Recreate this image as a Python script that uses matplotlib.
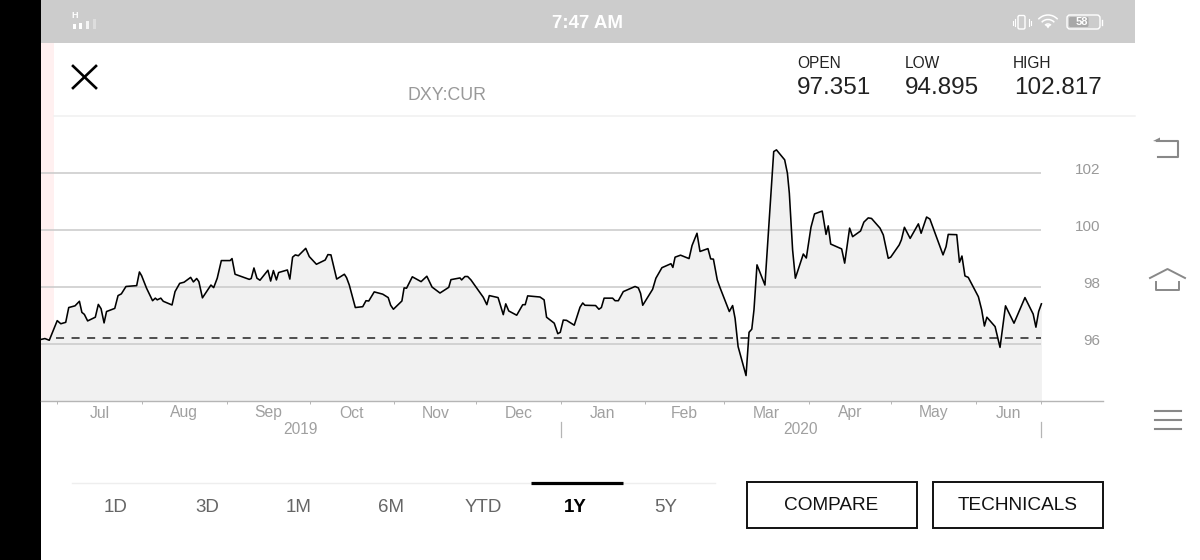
import matplotlib
matplotlib.use("Agg")
import matplotlib.pyplot as plt
from matplotlib.patches import Rectangle, FancyBboxPatch, Polygon, Arc

plt.rcParams['font.family'] = ['Liberation Sans', 'DejaVu Sans']
plt.rcParams['lines.scale_dashes'] = False

# days counted from 1 Jul 2019
days = [-6.0, -4.6, -3.0, -0.1, 1.2, 3.0, 4.1, 6.4, 8.0, 8.9, 9.8, 11.0, 13.8, 14.9, 15.9, 17.0, 17.9, 20.9,
        22.1, 23.3, 25.0, 28.9, 29.9, 30.7, 32.5, 34.7, 35.7, 36.4, 37.7, 38.6, 41.8, 42.9, 44.6, 46.2, 48.6,
        49.6, 50.8, 51.6, 52.9, 56.0, 57.0, 58.3, 59.8, 63.0, 63.7, 64.8, 70.0, 70.7, 71.7, 72.8, 73.9, 76.8,
        77.8, 78.8, 79.9, 80.7, 83.9, 84.8, 85.8, 86.8, 87.9, 90.6, 91.9, 94.5, 97.7, 98.7, 99.8, 101.9, 104.7,
        105.5, 106.5, 108.7, 111.4, 112.6, 113.6, 115.6, 118.7, 120.7, 121.6, 122.6, 125.7, 126.5, 127.4, 129.5,
        132.7, 134.8, 136.7, 139.6, 142.8, 143.6, 146.9, 147.5, 148.7, 149.7, 150.9, 155.4, 156.7, 157.6, 160.8,
        162.7, 163.6, 164.7, 167.6, 169.8, 170.7, 171.6, 176.1, 177.6, 178.5, 181.3, 182.6, 183.5, 184.6, 185.8,
        188.6, 190.7, 191.7, 192.5, 196.4, 197.6, 198.5, 199.5, 202.6, 203.5, 204.7, 206.5, 210.8, 212.0, 212.8,
        213.6, 217.2, 218.4, 220.6, 223.9, 224.6, 225.4, 227.4, 230.5, 231.6, 233.4, 234.5, 237.4, 238.4, 239.4,
        240.8, 241.8, 245.2, 246.4, 247.3, 248.4, 251.3, 252.4, 253.4, 254.2, 255.3, 258.2, 261.4, 262.4, 265.4,
        266.4, 267.1, 268.3, 269.3, 272.2, 273.3, 275.0, 276.3, 279.1, 280.5, 281.3, 282.2, 286.2, 287.3, 289.1,
        290.2, 293.1, 294.3, 295.9, 297.1, 300.2, 301.4, 303.2, 304.1, 307.2, 308.0, 309.1, 311.2, 314.2, 315.2,
        317.2, 318.4, 323.2, 324.3, 325.1, 328.2, 329.2, 330.1, 331.2, 332.4, 336.1, 337.3, 338.3, 339.2, 342.2,
        344.0, 346.0, 349.1, 353.1, 356.1, 357.1, 358.1, 359.1]
prices = [96.16, 96.19, 96.13, 96.82, 96.71, 96.76, 97.28, 97.34, 97.50, 97.11, 97.04, 96.81, 96.94, 97.39, 97.24,
          96.74, 97.14, 97.25, 97.70, 97.76, 98.02, 98.05, 98.53, 98.40, 97.96, 97.52, 97.61, 97.55, 97.61, 97.50,
          97.37, 97.84, 98.13, 98.17, 98.34, 98.18, 98.30, 98.19, 97.62, 98.07, 97.98, 98.31, 98.93, 98.93, 99.00,
          98.45, 98.27, 98.30, 98.67, 98.31, 98.24, 98.59, 98.21, 98.58, 98.25, 98.51, 98.60, 98.28, 99.05, 99.13,
          99.10, 99.36, 99.07, 98.80, 98.95, 99.14, 99.13, 98.28, 98.45, 98.33, 98.07, 97.28, 97.31, 97.52, 97.51,
          97.83, 97.75, 97.63, 97.36, 97.22, 97.51, 97.97, 97.96, 98.36, 98.19, 98.38, 98.00, 97.79, 97.99, 98.26,
          98.32, 98.25, 98.37, 98.37, 98.25, 97.64, 97.38, 97.70, 97.63, 97.03, 97.41, 97.16, 97.01, 97.38, 97.38,
          97.69, 97.65, 97.55, 96.94, 96.73, 96.36, 96.41, 96.84, 96.83, 96.66, 97.29, 97.44, 97.36, 97.35, 97.22,
          97.28, 97.61, 97.61, 97.52, 97.52, 97.84, 98.02, 97.97, 97.78, 97.36, 97.92, 98.31, 98.68, 98.82, 98.69,
          99.05, 99.12, 99.00, 99.46, 99.89, 99.25, 99.35, 98.99, 98.98, 98.25, 97.98, 97.14, 97.35, 96.90, 95.91,
          94.89, 96.41, 96.52, 97.20, 98.78, 98.07, 102.76, 102.82, 102.47, 102.00, 101.30, 99.30, 98.31, 99.16,
          99.02, 100.10, 100.57, 100.67, 99.85, 100.15, 99.51, 99.34, 98.84, 100.07, 99.77, 99.97, 100.28, 100.43,
          100.41, 100.07, 99.83, 99.01, 99.05, 99.48, 99.66, 100.10, 99.71, 100.22, 99.89, 100.46, 100.39, 99.13,
          99.42, 99.85, 99.84, 98.87, 99.09, 98.39, 98.34, 97.66, 97.20, 96.63, 96.94, 96.61, 95.88, 97.34, 96.73,
          97.63, 97.05, 96.59, 97.14, 97.41]

prev_close = 96.2
y_ticks = [96, 98, 100, 102]
month_days = [0, 30.8, 61.8, 92, 122.9, 152.8, 183.7, 214.4, 243.3, 274.3, 304.2, 335.2, 359]
months = ['Jul', 'Aug', 'Sep', 'Oct', 'Nov', 'Dec', 'Jan', 'Feb', 'Mar', 'Apr', 'May', 'Jun']
years = ['2019', '2020']
year_edges = [-6.0, 183.7, 359]
stats = [('OPEN', '97.351'), ('LOW', '94.895'), ('HIGH', '102.817')]
tabs = ['1D', '3D', '1M', '6M', 'YTD', '1Y', '5Y']

W, H = 1200, 560
fig = plt.figure(figsize=(W / 100, H / 100), dpi=100, facecolor='white')

# screen furniture, in pixel coordinates
bg = fig.add_axes([0, 0, 1, 1])
bg.set_xlim(0, W)
bg.set_ylim(H, 0)
bg.axis('off')

bg.add_patch(Rectangle((0, 0), 41, H, color='black', lw=0))
bg.add_patch(Rectangle((41, 0), 1094, 43, color='#cccccc', lw=0))
bg.add_patch(Rectangle((41, 43), 13, 358, color='#fff0f0', lw=0))
bg.plot([54, 1135], [116, 116], color='#f0f0f0', lw=1.1)

# status bar
bg.text(75, 15.5, 'H', color='white', fontsize=6.5, fontweight='bold', ha='center', va='center')
for bx, by, a in [(73, 24, 1), (79, 23, 1), (86, 21, 0.8), (92.5, 19, 0.35)]:
    bg.add_patch(Rectangle((bx, by), 3.2, 29 - by, color='white', alpha=a, lw=0))
bg.text(587, 23, '7:47 AM', color='white', fontsize=13.5, fontweight='bold', ha='center', va='center')
bg.add_patch(FancyBboxPatch((1018, 15.5), 7, 13.5, boxstyle='round,pad=0,rounding_size=1.5',
                            fc='none', ec='white', lw=1))
for sx, y0, y1 in [(1014.5, 19, 26), (1012.5, 20.5, 24.5), (1029, 19, 26), (1031, 20.5, 24.5)]:
    bg.plot([sx, sx], [y0, y1], color='white', lw=0.8)
for d in [26, 17, 8]:
    bg.add_patch(Arc((1048, 28), d, d, theta1=222, theta2=318, color='white', lw=1.1))
bg.add_patch(Polygon([(1045.5, 25), (1050.5, 25), (1048, 28.5)], color='white', lw=0))
bg.add_patch(FancyBboxPatch((1067, 15), 33, 14, boxstyle='round,pad=0,rounding_size=3',
                            fc='none', ec='white', lw=1))
bg.add_patch(FancyBboxPatch((1069, 17), 19.5, 10, boxstyle='round,pad=0,rounding_size=1.5',
                            fc='#a8a8a8', ec='none'))
bg.text(1082, 22, '58', color='white', fontsize=8, fontweight='bold', ha='center', va='center')
bg.plot([1102, 1102], [19.5, 24.5], color='white', lw=1)

# header
bg.plot([73, 96], [66, 88], color='black', lw=1.9)
bg.plot([73, 96], [88, 66], color='black', lw=1.9)
bg.text(447, 95, 'DXY:CUR', color='#999999', fontsize=12.8, ha='center', va='center')
for (label, val), sx in zip(stats, [797, 905, 1013]):
    bg.text(sx, 63.5, label, color='#222222', fontsize=11.2, ha='left', va='center')
    bg.text(sx + (1.5 if label == 'HIGH' else 0), 87.5, val, color='#222222', fontsize=17.5, ha='left', va='center')

# android nav buttons
nav = '#888888'
bg.plot([1157, 1178, 1178, 1158], [141, 141, 156.5, 156.5], color=nav, lw=1.5)
bg.add_patch(Polygon([(1153, 141), (1160, 137.5), (1160, 142)], color=nav, lw=0))
bg.plot([1150, 1167.5, 1185], [278, 269, 278], color=nav, lw=1.4)
bg.plot([1156, 1156, 1179, 1179], [282, 290, 290, 282], color=nav, lw=1.4)
for my in [411, 420, 429]:
    bg.plot([1155, 1180.5], [my, my], color=nav, lw=1.5)

# range tabs
bg.plot([72, 715], [483, 483], color='#eeeeee', lw=1)
bg.plot([531, 623], [483, 483], color='black', lw=2.3, solid_capstyle='butt')
for t, tx in zip(tabs, [115.7, 207.6, 299, 391, 483.5, 575, 666]):
    if t == '1Y':
        bg.text(tx, 507.5, t, color='black', fontsize=13.5, fontweight='bold', ha='center', va='center')
    else:
        bg.text(tx, 507.5, t, color='#666666', fontsize=13.5, ha='center', va='center')

# buttons
for label, bx0, bx1 in [('COMPARE', 746.6, 916.5), ('TECHNICALS', 933, 1103)]:
    bg.add_patch(Rectangle((bx0, 482), bx1 - bx0, 46, fc='white', ec='#111111', lw=1.4))
    bg.text((bx0 + bx1) / 2, 505, label, color='#111111', fontsize=13.7, ha='center', va='center')

# chart
ax = fig.add_axes([41 / W, 1 - 401 / H, 1061.5 / W, 285 / H])
ax.patch.set_alpha(0)
ax.set_xlim(-6.02, 381.4)
ax.set_ylim(93.996, 104.01)

ax.fill_between(days, prices, 93.996, color='#f1f1f1', lw=0, zorder=1)
ax.hlines(y_ticks, -6.02, 359, color='#c9c9c9', lw=1.1, zorder=2)
ax.plot([-0.4, 359], [prev_close, prev_close], color='#222222', lw=1.1, dashes=(5.8, 5.4),
        dash_capstyle='butt', zorder=3)
ax.plot(days, prices, color='black', lw=1.15, zorder=4)

for s in ['top', 'left', 'right']:
    ax.spines[s].set_visible(False)
ax.spines['bottom'].set_color('#b5b5b5')
ax.spines['bottom'].set_linewidth(1)
ax.set_yticks([])
ax.set_xticks(month_days)
ax.set_xticklabels([])
ax.tick_params(axis='x', length=2, width=0.7, color='#b5b5b5')

for v in y_ticks:
    bg.text(1100, 344 - (v - 96) * 28.45 - 3, str(v), color='#999999', fontsize=11, ha='right', va='center')

tr = ax.get_xaxis_transform()
for i, m in enumerate(months):
    ax.text((month_days[i] + month_days[i + 1]) / 2, -12 / 285, m, transform=tr, color='#a0a0a0',
            fontsize=11.3, ha='center', va='center', clip_on=False)
for i, y in enumerate(years):
    ax.text((year_edges[i] + year_edges[i + 1]) / 2, -29 / 285, y, transform=tr, color='#a0a0a0',
            fontsize=11.2, ha='center', va='center', clip_on=False)
for e in year_edges[1:]:
    ax.plot([e, e], [-21 / 285, -35.5 / 285], transform=tr, color='#b5b5b5', lw=0.9, clip_on=False)

fig.savefig('out.png', dpi=100, facecolor='white')
